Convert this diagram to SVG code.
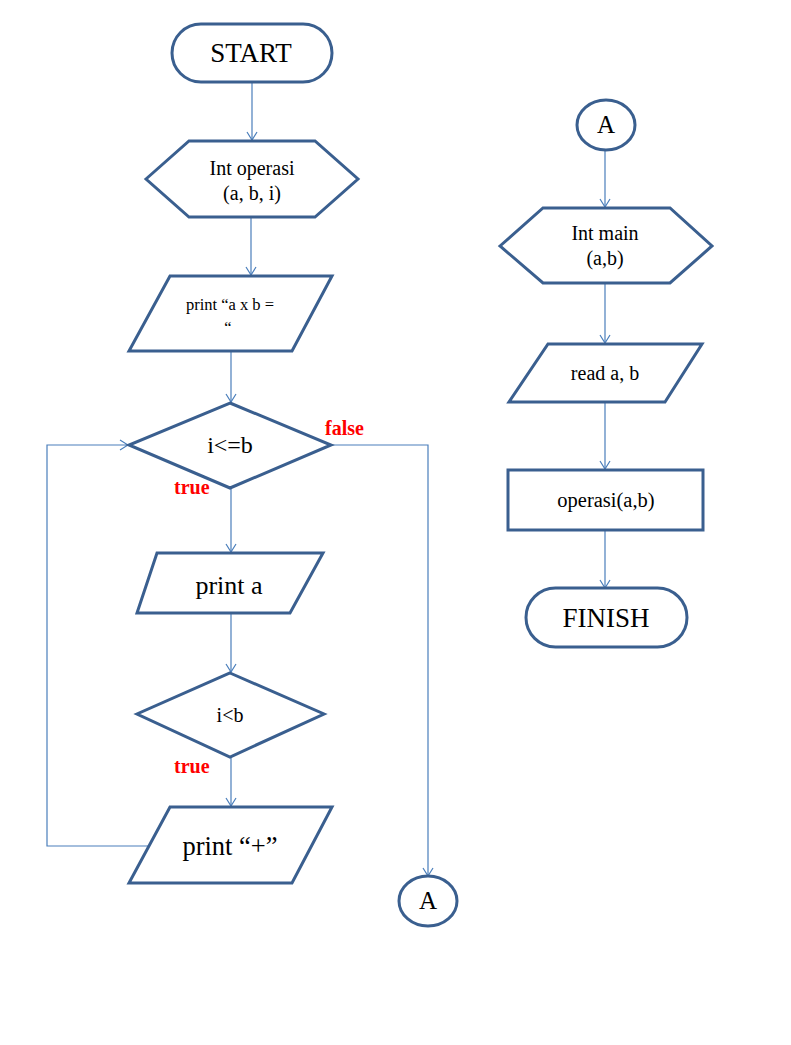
<svg xmlns="http://www.w3.org/2000/svg" width="791" height="1045" viewBox="0 0 791 1045">
  <style>
    .shape { fill: #ffffff; stroke: #3A5F8F; stroke-width: 3; stroke-linejoin: miter; }
    .conn { fill: none; stroke: #4A7EBB; stroke-width: 1.2; }
    .t { font-family: "Liberation Serif", "Times New Roman", serif; fill: #000000; text-anchor: middle; }
    .lbl { font-family: "Liberation Serif", "Times New Roman", serif; fill: #FF0000; font-weight: bold; font-size: 20px; }
  </style>
  <defs>
    <marker id="arrow" markerWidth="10" markerHeight="12" refX="9" refY="6" orient="auto" markerUnits="userSpaceOnUse">
      <path d="M1,1 L9,6 L1,11" fill="none" stroke="#4A7EBB" stroke-width="1.2"/>
    </marker>
  </defs>
  <rect width="791" height="1045" fill="#ffffff"/>

  <!-- connectors -->
  <g id="connectors">
    <line class="conn" x1="252" y1="82" x2="252" y2="140" marker-end="url(#arrow)"/>
    <line class="conn" x1="251" y1="217" x2="251" y2="275" marker-end="url(#arrow)"/>
    <line class="conn" x1="231" y1="351" x2="231" y2="402" marker-end="url(#arrow)"/>
    <polyline class="conn" points="331,445 428,445 428,876" marker-end="url(#arrow)"/>
    <line class="conn" x1="231" y1="488" x2="231" y2="552" marker-end="url(#arrow)"/>
    <line class="conn" x1="231" y1="613" x2="231" y2="672" marker-end="url(#arrow)"/>
    <line class="conn" x1="231" y1="757" x2="231" y2="806" marker-end="url(#arrow)"/>
    <polyline class="conn" points="150,846 47,846 47,445 128,445" marker-end="url(#arrow)"/>
    <line class="conn" x1="605" y1="150" x2="605" y2="207" marker-end="url(#arrow)"/>
    <line class="conn" x1="605" y1="283" x2="605" y2="343" marker-end="url(#arrow)"/>
    <line class="conn" x1="605" y1="402" x2="605" y2="469" marker-end="url(#arrow)"/>
    <line class="conn" x1="605" y1="530" x2="605" y2="588" marker-end="url(#arrow)"/>
  </g>

  <!-- left flow -->
  <g id="start">
    <rect class="shape" x="172" y="24" width="160" height="58" rx="29" ry="29"/>
    <text class="t" x="251" y="62" font-size="27">START</text>
  </g>
  <g id="int-operasi">
    <polygon class="shape" points="146,179 189,141 315,141 358,179 315,217 189,217"/>
    <text class="t" x="252" y="175" font-size="20">Int operasi</text>
    <text class="t" x="252" y="200" font-size="20">(a, b, i)</text>
  </g>
  <g id="print-axb">
    <polygon class="shape" points="170,276 332,276 292,351 129,351"/>
    <text class="t" x="230" y="310" font-size="16.5">print “a x b =</text>
    <text class="t" x="228" y="333" font-size="16.5">“</text>
  </g>
  <g id="cond-i-le-b">
    <polygon class="shape" points="230,403 331,445 230,488 129,445"/>
    <text class="t" x="230" y="453" font-size="24">i&lt;=b</text>
  </g>
  <text class="lbl" x="325" y="435">false</text>
  <text class="lbl" x="174" y="494">true</text>
  <g id="print-a">
    <polygon class="shape" points="157,553 323,553 290,613 137,613"/>
    <text class="t" x="229" y="594" font-size="26">print a</text>
  </g>
  <g id="cond-i-lt-b">
    <polygon class="shape" points="230,673 324,714 230,757 137,714"/>
    <text class="t" x="230" y="722" font-size="20">i&lt;b</text>
  </g>
  <text class="lbl" x="174" y="773">true</text>
  <g id="print-plus">
    <polygon class="shape" points="170,807 332,807 292,883 129,883"/>
    <text class="t" x="230" y="855" font-size="26.5">print “+”</text>
  </g>
  <g id="connector-a-out">
    <ellipse class="shape" cx="428" cy="901" rx="29" ry="25"/>
    <text class="t" x="428" y="909" font-size="25">A</text>
  </g>

  <!-- right flow -->
  <g id="connector-a-in">
    <ellipse class="shape" cx="606" cy="125" rx="29" ry="25"/>
    <text class="t" x="606" y="133" font-size="25">A</text>
  </g>
  <g id="int-main">
    <polygon class="shape" points="500,246 543,208 670,208 712,246 670,283 543,283"/>
    <text class="t" x="605" y="240" font-size="20">Int main</text>
    <text class="t" x="605" y="265" font-size="20">(a,b)</text>
  </g>
  <g id="read-ab">
    <polygon class="shape" points="548,344 702,344 665,402 509,402"/>
    <text class="t" x="605" y="380" font-size="20">read a, b</text>
  </g>
  <g id="operasi-call">
    <rect class="shape" x="508" y="470" width="195" height="60"/>
    <text class="t" x="606" y="507" font-size="20.5">operasi(a,b)</text>
  </g>
  <g id="finish">
    <rect class="shape" x="526" y="588" width="161" height="59" rx="29.5" ry="29.5"/>
    <text class="t" x="606" y="627" font-size="27">FINISH</text>
  </g>
</svg>
